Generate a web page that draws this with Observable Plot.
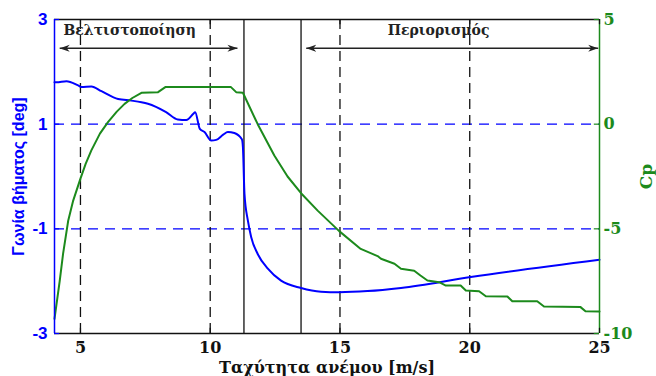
<!DOCTYPE html>
<html>
<head>
<meta charset="utf-8">
<script src="https://cdn.jsdelivr.net/npm/d3@7"></script>
<script src="https://cdn.jsdelivr.net/npm/@observablehq/plot@0.6"></script>
<style>
  html, body { margin: 0; padding: 0; background: #fff; }
</style>
</head>
<body>
<div id="chart"></div>
<script>
// Pitch angle (left axis, deg)
const pitchWind = [4.0, 4.08, 4.46, 4.91, 5.04, 5.42, 5.81, 6.45, 6.96, 7.35, 7.6, 8.3, 8.75, 9.08, 9.35, 9.42, 9.6, 9.78, 10.04, 10.23, 10.5, 10.68, 10.93, 11.22, 11.26, 11.32, 11.45, 11.58, 11.83, 12.22, 12.73, 13.5, 14.27, 14.97, 16.06, 17.35, 20.04, 25.0];
const pitchAngle = [1.80, 1.80, 1.82, 1.74, 1.71, 1.72, 1.63, 1.48, 1.45, 1.42, 1.39, 1.23, 1.09, 1.08, 1.20, 1.23, 0.91, 0.85, 0.69, 0.70, 0.80, 0.85, 0.83, 0.71, 0.56, -0.33, -0.84, -1.16, -1.48, -1.76, -1.99, -2.13, -2.20, -2.21, -2.19, -2.13, -1.92, -1.59];

// Power coefficient Cp (right axis)
const cpWind = [4.0, 4.2, 4.33, 4.53, 4.72, 5.0, 5.2, 5.42, 5.75, 6.06, 6.4, 6.7, 7.0, 7.35, 7.99, 8.27, 10.8, 11.0, 11.26, 11.83, 12.47, 12.98, 13.5, 14.14, 14.97, 15.8, 16.45, 16.58, 17.1, 17.35, 17.86, 18.1, 18.37, 18.82, 19.08, 19.65, 19.85, 20.36, 20.62, 21.45, 21.64, 22.6, 22.86, 24.27, 24.46, 25.0];
const cpValue = [-9.3, -7.5, -6.2, -4.6, -3.65, -2.6, -1.9, -1.25, -0.45, 0.1, 0.6, 0.97, 1.25, 1.5, 1.53, 1.77, 1.77, 1.53, 1.5, 0.0, -1.5, -2.5, -3.3, -4.13, -5.11, -5.96, -6.3, -6.43, -6.67, -6.91, -7.0, -7.23, -7.47, -7.55, -7.71, -7.71, -7.95, -7.98, -8.22, -8.23, -8.46, -8.46, -8.71, -8.74, -8.94, -8.95];

// Axes and annotations
const xTicks = [5, 10, 15, 20, 25];
const leftTicks = [3, 1, -1, -3];
const rightTicks = [5, 0, -5, -10];
const gridX = [5, 10, 15, 20];
const regionBounds = [11.3, 13.5];
const regionLabels = ["Βελτιστοποίηση", "Περιορισμός"];
const regionArrowX1 = [4.2, 13.7];
const regionArrowX2 = [11.05, 24.95];
const regionLabelX = [6.9, 18.8];

const xLabel = "Ταχύτητα ανέμου [m/s]";
const yLeftLabel = "Γωνία βήματος [deg]";
const yRightLabel = "Cp";

const BLUE = "#0000ff";
const GREEN = "#1c8a1c";

// Cp mapped onto the left scale: left = 0.4*Cp + 1
const toLeft = cp => 0.4 * cp + 1;
const fromLeft = v => Math.round((v - 1) / 0.4);

const pitchData = pitchWind.map((x, i) => ({x, y: pitchAngle[i]}));
const cpData = cpWind.map((x, i) => ({x, y: toLeft(cpValue[i])}));
const arrows = regionLabels.map((t, i) => ({x1: regionArrowX1[i], x2: regionArrowX2[i], y: 2.45}));
const labels = regionLabels.map((t, i) => ({text: t, x: regionLabelX[i], y: 2.78}));

function filledArrow(color, context) {
  const m = d3.create("svg:marker")
    .attr("viewBox", "-10 -4 10 8")
    .attr("markerWidth", 10)
    .attr("markerHeight", 8)
    .attr("markerUnits", "userSpaceOnUse")
    .attr("orient", "auto-start-reverse")
    .attr("fill", "#222")
    .attr("stroke", "none");
  m.append("path").attr("d", "M0,0L-10,-3.5L-7,0L-10,3.5Z");
  return m.node();
}

const serif = "'DejaVu Serif', serif";
const sans = "'Liberation Sans', Arial, sans-serif";

const chart = Plot.plot({
  width: 656,
  height: 376,
  marginLeft: 54,
  marginRight: 57,
  marginTop: 19,
  marginBottom: 43,
  style: {background: "#fff", overflow: "visible"},
  x: {domain: [4, 25]},
  y: {domain: [-3, 3]},
  marks: [
    // grids
    Plot.ruleY([1, -1], {stroke: BLUE, strokeWidth: 1.3, strokeDasharray: "10,7"}),
    Plot.ruleX(gridX, {stroke: "#111", strokeWidth: 1.3, strokeDasharray: "10,6"}),
    Plot.ruleX(regionBounds, {stroke: "#111", strokeWidth: 1.3}),
    // curves
    Plot.line(pitchData, {x: "x", y: "y", stroke: BLUE, strokeWidth: 2, curve: "monotone-x"}),
    Plot.line(cpData, {x: "x", y: "y", stroke: GREEN, strokeWidth: 2}),
    // annotation arrows and labels
    Plot.link(arrows, {x1: "x1", x2: "x2", y1: "y", y2: "y", stroke: "#222", strokeWidth: 1.5, markerStart: filledArrow, markerEnd: filledArrow}),
    Plot.text(labels, {x: "x", y: "y", text: "text", fontFamily: serif, fontWeight: "bold", fontSize: 14, fill: "#222"}),
    // frame
    Plot.ruleY([3, -3], {stroke: "#111", strokeWidth: 1.3}),
    Plot.ruleX([4], {stroke: BLUE, strokeWidth: 1.5}),
    Plot.ruleX([25], {stroke: GREEN, strokeWidth: 1.5}),
    // inward ticks
    Plot.ruleY(leftTicks, {x1: 4, x2: 4.2, stroke: BLUE, strokeWidth: 1.2}),
    Plot.ruleY(leftTicks, {x1: 24.8, x2: 25, stroke: GREEN, strokeWidth: 1.2}),
    Plot.ruleX(xTicks, {y1: -3, y2: -2.9, stroke: "#111", strokeWidth: 1.2}),
    Plot.ruleX(xTicks, {y1: 2.9, y2: 3, stroke: "#111", strokeWidth: 1.2}),
    // axes
    Plot.axisX(xTicks, {tickSize: 0, tickPadding: 8, tickFormat: d => String(d), fontFamily: serif, fontWeight: "bold", fontSize: 16, color: "#111", label: null}),
    Plot.axisX([], {label: xLabel, labelAnchor: "center", labelArrow: "none", labelOffset: 39, fontFamily: serif, fontWeight: "bold", fontSize: 16, color: "#111"}),
    Plot.axisY(leftTicks, {anchor: "left", tickSize: 0, tickPadding: 7, tickFormat: d => String(d), fontFamily: sans, fontWeight: "bold", fontSize: 17, color: BLUE, label: null}),
    Plot.axisY([], {anchor: "left", label: yLeftLabel, labelAnchor: "center", labelArrow: "none", labelOffset: 42, fontFamily: sans, fontWeight: "bold", fontSize: 16, color: BLUE}),
    Plot.axisY(leftTicks, {anchor: "right", tickSize: 0, tickPadding: 4, tickFormat: d => String(fromLeft(d)), fontFamily: serif, fontWeight: "bold", fontSize: 16, color: GREEN, label: null}),
    Plot.axisY([], {anchor: "right", label: yRightLabel, labelAnchor: "center", labelArrow: "none", labelOffset: 52, fontFamily: serif, fontWeight: "bold", fontSize: 17, color: GREEN})
  ]
});
document.getElementById("chart").append(chart);
</script>
</body>
</html>
